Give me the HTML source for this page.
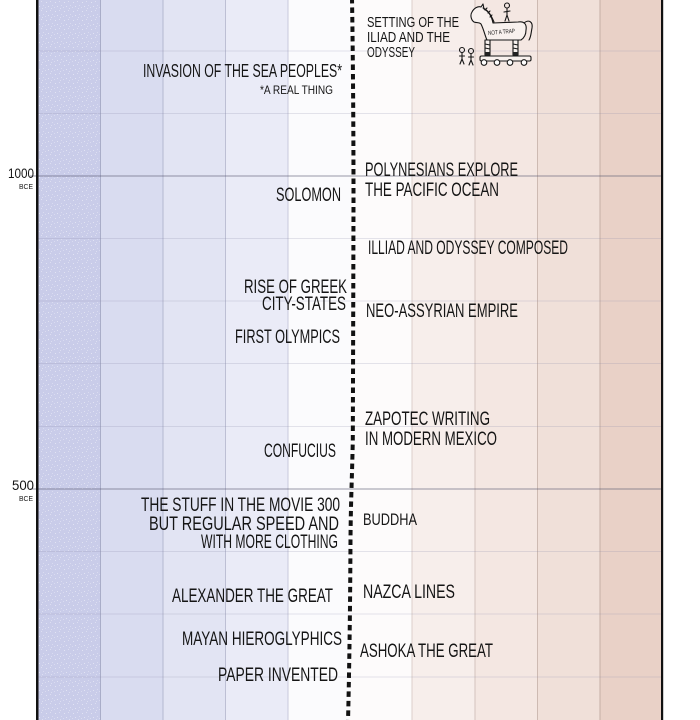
<!DOCTYPE html>
<html><head><meta charset="utf-8"><style>
html,body{margin:0;padding:0;background:#fff;}
svg{display:block;}
text{font-family:"Liberation Sans",sans-serif;fill:#151515;}
</style></head><body>
<svg width="700" height="720" viewBox="0 0 700 720" xmlns="http://www.w3.org/2000/svg">
<defs>
<pattern id="spk" width="9" height="9" patternUnits="userSpaceOnUse">
<rect x="1" y="2" width="1" height="1" fill="#fff" opacity="0.45"/>
<rect x="5" y="1" width="1" height="1" fill="#fff" opacity="0.35"/>
<rect x="3" y="6" width="1" height="1" fill="#fff" opacity="0.45"/>
<rect x="7" y="5" width="1" height="1" fill="#fff" opacity="0.3"/>
<rect x="6" y="8" width="1" height="1" fill="#fff" opacity="0.35"/>
<rect x="0" y="7" width="1" height="1" fill="#fff" opacity="0.3"/>
</pattern>
</defs>
<rect x="0" y="0" width="700" height="720" fill="#fff"/>
<!-- columns -->
<rect x="38" y="0" width="62" height="720" fill="#c9cce9"/>
<rect x="38" y="0" width="62" height="720" fill="url(#spk)"/>
<rect x="100" y="0" width="63" height="720" fill="#d9dcf0"/>
<rect x="163" y="0" width="62" height="720" fill="#e2e4f3"/>
<rect x="225" y="0" width="63" height="720" fill="#eaebf7"/>
<rect x="288" y="0" width="62" height="720" fill="#fbfbfd"/>
<rect x="350" y="0" width="62" height="720" fill="#fdfbfb"/>
<rect x="412" y="0" width="63" height="720" fill="#f7eeeb"/>
<rect x="475" y="0" width="62" height="720" fill="#f4e7e2"/>
<rect x="537" y="0" width="63" height="720" fill="#f0e0d9"/>
<rect x="600" y="0" width="62" height="720" fill="#e9d1c7"/>
<!-- vertical grid -->
<g stroke-width="1">
<line x1="100.5" y1="0" x2="100.5" y2="720" stroke="#a9adc8"/>
<line x1="163" y1="0" x2="163" y2="720" stroke="#b4b7cf"/>
<line x1="225.5" y1="0" x2="225.5" y2="720" stroke="#bdbfd4"/>
<line x1="288" y1="0" x2="288" y2="720" stroke="#c8c9dc"/>
<line x1="412" y1="0" x2="412" y2="720" stroke="#dccfcb"/>
<line x1="475" y1="0" x2="475" y2="720" stroke="#d3c3bd"/>
<line x1="537.5" y1="0" x2="537.5" y2="720" stroke="#cdbab2"/>
<line x1="600" y1="0" x2="600" y2="720" stroke="#c5aea5"/>
</g>
<!-- horizontal grid -->
<g stroke="#8a8aa8" stroke-opacity="0.22" stroke-width="1">
<line x1="38" y1="51" x2="662" y2="51"/>
<line x1="38" y1="113.5" x2="662" y2="113.5"/>
<line x1="38" y1="238.5" x2="662" y2="238.5"/>
<line x1="38" y1="301" x2="662" y2="301"/>
<line x1="38" y1="363.5" x2="662" y2="363.5"/>
<line x1="38" y1="426.5" x2="662" y2="426.5"/>
<line x1="38" y1="551.5" x2="662" y2="551.5"/>
<line x1="38" y1="614" x2="662" y2="614"/>
<line x1="38" y1="677" x2="662" y2="677"/>
</g>
<g stroke="#55556e" stroke-opacity="0.6" stroke-width="1">
<line x1="30" y1="176" x2="662" y2="176"/>
<line x1="30" y1="489" x2="662" y2="489"/>
</g>
<!-- axes -->
<rect x="36" y="0" width="2.5" height="720" fill="#111"/>
<rect x="661" y="0" width="2.2" height="720" fill="#111"/>
<!-- dotted line -->
<path d="M352,-2 C353,60 353.5,130 353.5,200 C353.3,300 353,380 352.8,440 C352,480 350.8,500 350.5,540 C350.2,600 349.5,660 348,722" fill="none" stroke="#111" stroke-width="4" stroke-dasharray="5.5 4"/>
<!-- axis labels -->
<text x="8" y="178" font-size="14" textLength="26" lengthAdjust="spacingAndGlyphs">1000</text>
<text x="19" y="189" font-size="7" textLength="14" lengthAdjust="spacingAndGlyphs">BCE</text>
<text x="12" y="490" font-size="14" textLength="22" lengthAdjust="spacingAndGlyphs">500</text>
<text x="19" y="501" font-size="7" textLength="14" lengthAdjust="spacingAndGlyphs">BCE</text>
<!-- left labels -->
<g font-size="19">
<text x="143" y="77" font-size="18" textLength="199" lengthAdjust="spacingAndGlyphs">INVASION OF THE SEA PEOPLES*</text>
<text x="260" y="94" font-size="12" textLength="73" lengthAdjust="spacingAndGlyphs">*A REAL THING</text>
<text x="276" y="201" textLength="65" lengthAdjust="spacingAndGlyphs">SOLOMON</text>
<text x="244" y="293" textLength="103" lengthAdjust="spacingAndGlyphs">RISE OF GREEK</text>
<text x="262" y="310" textLength="84" lengthAdjust="spacingAndGlyphs">CITY-STATES</text>
<text x="235" y="343" textLength="105" lengthAdjust="spacingAndGlyphs">FIRST OLYMPICS</text>
<text x="264" y="457" textLength="72" lengthAdjust="spacingAndGlyphs">CONFUCIUS</text>
<text x="141" y="511" textLength="199" lengthAdjust="spacingAndGlyphs">THE STUFF IN THE MOVIE 300</text>
<text x="149" y="530" textLength="190" lengthAdjust="spacingAndGlyphs">BUT REGULAR SPEED AND</text>
<text x="201" y="548" textLength="137" lengthAdjust="spacingAndGlyphs">WITH MORE CLOTHING</text>
<text x="172" y="602" textLength="161" lengthAdjust="spacingAndGlyphs">ALEXANDER THE GREAT</text>
<text x="182" y="645" textLength="160" lengthAdjust="spacingAndGlyphs">MAYAN HIEROGLYPHICS</text>
<text x="218" y="681" textLength="120" lengthAdjust="spacingAndGlyphs">PAPER INVENTED</text>
</g>
<!-- right labels -->
<g font-size="19">
<text x="367" y="27" font-size="15" textLength="92" lengthAdjust="spacingAndGlyphs">SETTING OF THE</text>
<text x="367" y="42" font-size="15" textLength="83" lengthAdjust="spacingAndGlyphs">ILIAD AND THE</text>
<text x="367" y="57" font-size="15" textLength="48" lengthAdjust="spacingAndGlyphs">ODYSSEY</text>
<text x="365" y="176" textLength="153" lengthAdjust="spacingAndGlyphs">POLYNESIANS EXPLORE</text>
<text x="365" y="196" textLength="134" lengthAdjust="spacingAndGlyphs">THE PACIFIC OCEAN</text>
<text x="368" y="254" textLength="200" lengthAdjust="spacingAndGlyphs">ILLIAD AND ODYSSEY COMPOSED</text>
<text x="366" y="317" textLength="152" lengthAdjust="spacingAndGlyphs">NEO-ASSYRIAN EMPIRE</text>
<text x="365" y="425" textLength="125" lengthAdjust="spacingAndGlyphs">ZAPOTEC WRITING</text>
<text x="365" y="445" textLength="132" lengthAdjust="spacingAndGlyphs">IN MODERN MEXICO</text>
<text x="363" y="525" font-size="17" textLength="54" lengthAdjust="spacingAndGlyphs">BUDDHA</text>
<text x="363" y="598" textLength="92" lengthAdjust="spacingAndGlyphs">NAZCA LINES</text>
<text x="360" y="657" textLength="133" lengthAdjust="spacingAndGlyphs">ASHOKA THE GREAT</text>
</g>
<!-- trojan horse -->
<g fill="none" stroke="#151515" stroke-width="1.1" stroke-linecap="round" stroke-linejoin="round">
<path d="M474,22 C471,20 470,15 472,12 C474,8 478,6 481,7 L483,4 L484,9 C490,12 492,18 493,23 L518,22 C524,21 527,24 526,30 C526,35 524,38 521,40 L487,40 C485,36 484,30 481,24 C479,22 476,23 474,22 Z" fill="#f8f1ee"/>
<path d="M483,8 C488,10 491,15 494,22"/>
<path d="M485,10 L487,8 M488,13 L490,11 M490,17 L492,15"/>
<path d="M524,23 C529,19 533,22 532,28 C531,33 531,37 529,40"/>
<rect x="485" y="40" width="5" height="15" fill="#f8f1ee"/>
<rect x="513" y="40" width="5" height="15" fill="#f8f1ee"/>
<path d="M485,44 L490,45 M485,48 L490,49 M513,44 L518,45 M513,48 L518,49"/>
<rect x="480" y="56" width="51" height="5" rx="1.5" fill="#f8f1ee"/>
<circle cx="484" cy="62.5" r="2.8" fill="#fff"/>
<circle cx="497" cy="62.5" r="2.8" fill="#fff"/>
<circle cx="510" cy="62.5" r="2.8" fill="#fff"/>
<circle cx="524" cy="62.5" r="2.8" fill="#fff"/>
<circle cx="507" cy="5.5" r="2.5"/>
<path d="M507,8 L507,15 M504,12 L510,11 M507,15 L505,21 M507,15 L509,21"/>
<circle cx="462" cy="50" r="2.5"/>
<path d="M462,52.5 L462,59 M459.5,56 L464.5,56 M462,59 L460,64 M462,59 L464,64"/>
<circle cx="471" cy="51" r="2.5"/>
<path d="M471,53.5 L471,60 M468.5,57 L473.5,57 M471,60 L469,65 M471,60 L473,65"/>
</g>
<rect x="485" y="52" width="5" height="3.5" fill="#222"/>
<rect x="513" y="52" width="5" height="3.5" fill="#222"/>
<text x="488" y="34" font-size="6" textLength="27" lengthAdjust="spacingAndGlyphs" transform="rotate(-5 500 32)">NOT A TRAP</text>
</svg>
</body></html>
